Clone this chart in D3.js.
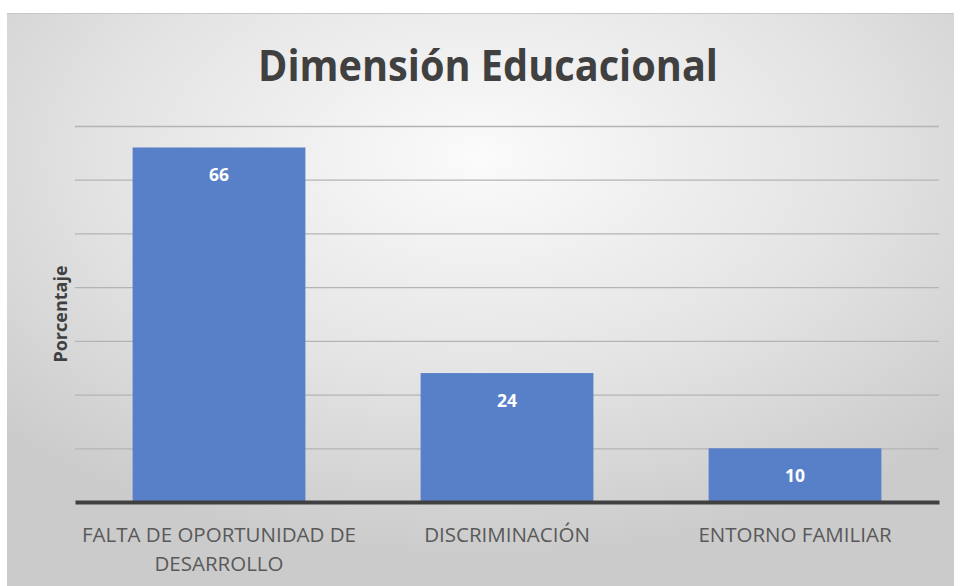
<!DOCTYPE html>
<html>
<head>
<meta charset="utf-8">
<script src="https://cdn.jsdelivr.net/npm/d3@7"></script>
<style>
  body { margin: 0; background: #fff; }
  svg { display: block; }
</style>
</head>
<body>
<div id="chart"></div>
<script>
// data
var categories = ["FALTA DE OPORTUNIDAD DE DESARROLLO", "DISCRIMINACIÓN", "ENTORNO FAMILIAR"];
var labelLines = [["FALTA DE OPORTUNIDAD DE", "DESARROLLO"], ["DISCRIMINACIÓN"], ["ENTORNO FAMILIAR"]];
var values = [66, 24, 10];
var yTicks = [0, 10, 20, 30, 40, 50, 60, 70];

var W = 960, H = 586;
var margin = {top: 126, right: 20, bottom: 84, left: 75},
  width = 939 - margin.left,
  height = 502 - margin.top;

var svg = d3.select("#chart")
  .append("svg")
  .attr("width", W)
  .attr("height", H);

// panel background
var defs = svg.append("defs");
var grad = defs.append("radialGradient")
  .attr("id", "bg")
  .attr("cx", "50%").attr("cy", "25%").attr("r", "70%");
grad.append("stop").attr("offset", "0%").attr("stop-color", "#fbfbfb");
grad.append("stop").attr("offset", "55%").attr("stop-color", "#e4e4e4");
grad.append("stop").attr("offset", "100%").attr("stop-color", "#cbcbcb");

svg.append("rect")
  .attr("x", 7).attr("y", 13)
  .attr("width", 947).attr("height", H - 13)
  .attr("fill", "url(#bg)");
svg.append("line")
  .attr("x1", 7).attr("x2", 954).attr("y1", 13.5).attr("y2", 13.5)
  .attr("stroke", "#c8c8c8");

var g = svg.append("g")
  .attr("transform", "translate(" + margin.left + "," + margin.top + ")");

var x = d3.scaleBand()
  .domain(categories)
  .range([0, width])
  .paddingInner(0.4)
  .paddingOuter(0.2);

var y = d3.scaleLinear()
  .domain([0, 70])
  .range([height, 0]);

// gridlines
g.append("g")
  .call(d3.axisLeft(y).tickValues(yTicks.slice(1)).tickSize(-width).tickFormat(""))
  .call(function(a) {
    a.select(".domain").remove();
    a.selectAll("line").attr("stroke", "#b4b4b4").attr("stroke-width", 1.3);
  });

// bars
g.selectAll(".bar")
  .data(values)
  .enter()
  .append("rect")
  .attr("class", "bar")
  .attr("x", function(d, i) { return x(categories[i]); })
  .attr("y", function(d) { return y(d); })
  .attr("width", x.bandwidth())
  .attr("height", function(d) { return height - y(d); })
  .attr("fill", "#5880c8");

// value labels
g.selectAll(".val")
  .data(values)
  .enter()
  .append("text")
  .attr("class", "val")
  .attr("x", function(d, i) { return x(categories[i]) + x.bandwidth() / 2; })
  .attr("y", function(d) { return y(d) + 34; })
  .attr("text-anchor", "middle")
  .attr("font-family", "Open Sans, sans-serif")
  .attr("font-weight", "bold")
  .attr("font-size", 17.5)
  .attr("fill", "#ffffff")
  .text(function(d) { return d; });

// x axis baseline and labels
var xAxis = g.append("g")
  .attr("transform", "translate(0," + height + ")")
  .call(d3.axisBottom(x).tickSize(0).tickFormat(""));
xAxis.select(".domain").attr("stroke", "#404040").attr("stroke-width", 4);

g.selectAll(".cat")
  .data(labelLines)
  .enter()
  .append("text")
  .attr("class", "cat")
  .attr("x", function(d, i) { return x(categories[i]) + x.bandwidth() / 2; })
  .attr("y", height + 40)
  .attr("text-anchor", "middle")
  .attr("font-family", "Open Sans, sans-serif")
  .attr("font-size", 20.5)
  .attr("fill", "#595959")
  .selectAll("tspan")
  .data(function(d) { return d; })
  .enter()
  .append("tspan")
  .attr("x", function() { return d3.select(this.parentNode).attr("x"); })
  .attr("dy", function(d, i) { return i === 0 ? 0 : 29; })
  .text(function(d) { return d; });

// y axis label
svg.append("text")
  .attr("transform", "translate(67," + (margin.top + height / 2) + ") rotate(-90)")
  .attr("text-anchor", "middle")
  .attr("font-family", "Open Sans, sans-serif")
  .attr("font-weight", "bold")
  .attr("font-size", 18)
  .attr("fill", "#404040")
  .text("Porcentaje");

// title
svg.append("text")
  .attr("x", 488)
  .attr("y", 81)
  .attr("text-anchor", "middle")
  .attr("font-family", "Open Sans, sans-serif")
  .attr("font-weight", "bold")
  .attr("font-size", 43)
  .attr("textLength", 460)
  .attr("lengthAdjust", "spacingAndGlyphs")
  .attr("fill", "#404040")
  .text("Dimensión Educacional");
</script>
</body>
</html>
